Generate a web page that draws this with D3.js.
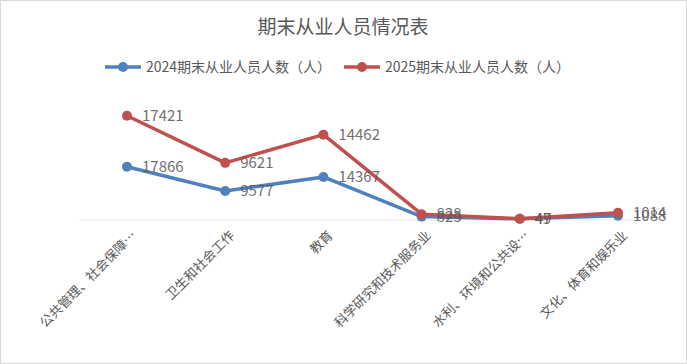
<!DOCTYPE html>
<html>
<head>
<meta charset="utf-8">
<script src="https://cdn.jsdelivr.net/npm/d3@7"></script>
<style>
body{margin:0;background:#fff;}
svg{display:block;font-family:"Noto Sans CJK SC","Noto Sans",sans-serif;}
</style>
</head>
<body>
<svg id="chart" width="687" height="364"></svg>
<script>
const categories=["公共管理、社会保障…","卫生和社会工作","教育","科学研究和技术服务业","水利、环境和公共设…","文化、体育和娱乐业"];
const series_names=["2024期末从业人员人数（人）","2025期末从业人员人数（人）"];
const values_2024=[17866,9577,14367,823,47,1088];
const values_2025=[17421,9621,14462,828,49,1014];
const colors=["#4F81BD","#C0504D"];

const svg=d3.select("#chart");
const width=687,height=364;

// border
svg.append("rect")
    .attr("x",0.5).attr("y",0.5)
    .attr("width",width-1).attr("height",height-1)
    .attr("fill","#fff").attr("stroke","#d9d9d9");

// title
svg.append("text")
    .attr("x",343).attr("y",34)
    .attr("text-anchor","middle")
    .attr("font-size",19)
    .attr("fill","#595959")
    .text("期末从业人员情况表");

// scales
const x=d3.scalePoint().domain(categories).range([127,618]);
const y=d3.scaleLinear().domain([0,40000]).range([219,102]);

// stacked values (the chart stacks 2025 on top of 2024)
const stacked=d3.stack().keys([0,1])(categories.map((c,i)=>({0:values_2024[i],1:values_2025[i]})));

// category axis line
svg.append("line")
    .attr("x1",79).attr("x2",668)
    .attr("y1",220).attr("y2",220)
    .attr("stroke","#ececec").attr("stroke-width",1);

// category labels
svg.append("g").selectAll("text")
    .data(categories).join("text")
    .attr("transform",d=>"translate("+(x(d)+7)+",233) rotate(-45)")
    .attr("text-anchor","end")
    .attr("dy","0.35em")
    .attr("font-size",13)
    .attr("fill","#595959")
    .text(d=>d);

const line=d3.line().x((d,i)=>x(categories[i])).y(d=>y(d[1]));
const raw=[values_2024,values_2025];

for (let s=0;s<2;s++){
    const g=svg.append("g");
    g.append("path")
        .datum(stacked[s])
        .attr("d",line)
        .attr("fill","none")
        .attr("stroke",colors[s])
        .attr("stroke-width",3.5)
        .attr("stroke-linejoin","round");
    g.selectAll("circle")
        .data(stacked[s]).join("circle")
        .attr("cx",(d,i)=>x(categories[i]))
        .attr("cy",d=>y(d[1]))
        .attr("r",5)
        .attr("fill",colors[s]);
}
for (let s=0;s<2;s++){
    svg.append("g").selectAll("text")
        .data(stacked[s]).join("text")
        .attr("x",(d,i)=>x(categories[i])+15)
        .attr("y",d=>y(d[1]))
        .attr("dy","0.35em")
        .attr("font-size",15)
        .attr("fill","#595959")
        .style("opacity",0.85)
        .text((d,i)=>raw[s][i]);
}

// legend
const legend_x=[105,344];
for (let s=0;s<2;s++){
    const lg=svg.append("g").attr("transform","translate("+legend_x[s]+",67)");
    lg.append("line").attr("x1",0).attr("x2",36).attr("y1",0).attr("y2",0)
        .attr("stroke",colors[s]).attr("stroke-width",3.5);
    lg.append("circle").attr("cx",18).attr("cy",0).attr("r",5).attr("fill",colors[s]);
    lg.append("text").attr("x",41).attr("y",0).attr("dy","0.35em")
        .attr("font-size",14).attr("fill","#595959")
        .text(series_names[s]);
}
</script>
</body>
</html>
